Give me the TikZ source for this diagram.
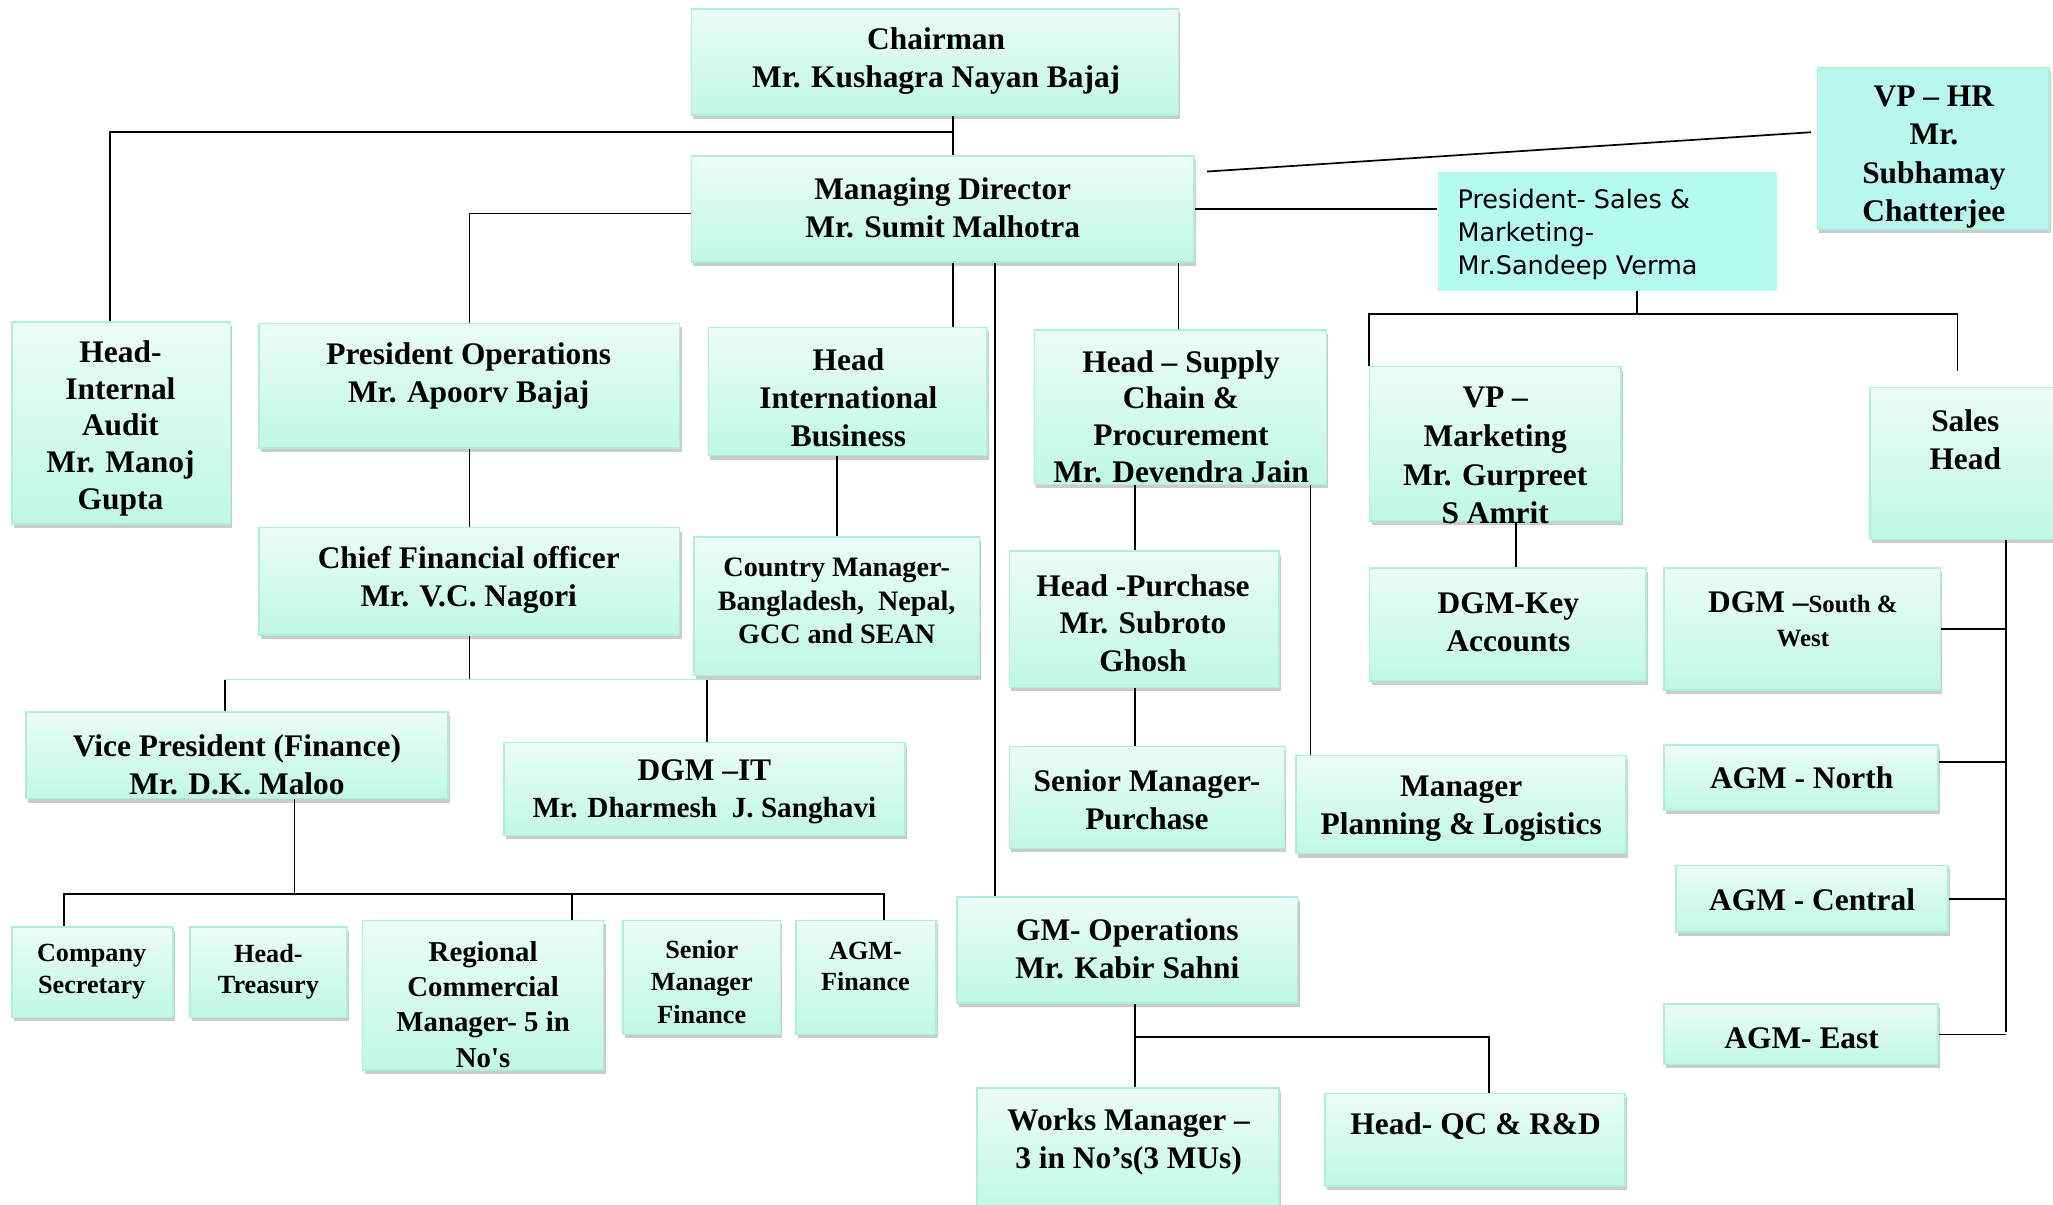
\documentclass[tikz,border=0pt]{standalone}
\usepackage{fontspec}
\setmainfont{Liberation Serif}
\newfontfamily\salesfont{DejaVu Sans}
\usetikzlibrary{shadows,fit}
\definecolor{boxtop}{HTML}{EBFDF7}
\definecolor{boxbot}{HTML}{BFF8E5}
\definecolor{boxline}{HTML}{ADF0D8}
\definecolor{cyanfill}{HTML}{B5FAEF}
\definecolor{hrfill}{HTML}{B8F8EC}
\definecolor{mintline}{HTML}{A8EED2}
\tikzset{
  orgbox/.style={draw=boxline, line width=1.2pt, top color=boxtop, bottom color=boxbot,
    drop shadow={shadow xshift=1.5pt, shadow yshift=-3pt, fill=black!45, opacity=0.45}, inner sep=0pt},
  flatbox/.style={fill=cyanfill, draw=none, inner sep=0pt},
  hrbox/.style={fill=hrfill, draw=boxline, line width=1.2pt,
    drop shadow={shadow xshift=1.5pt, shadow yshift=-3pt, fill=black!45, opacity=0.45}, inner sep=0pt},
  txt/.style={align=center, inner sep=0pt, yshift=-2pt, font=\bfseries\fontsize{24}{29}\selectfont},
  txtm/.style={align=center, inner sep=0pt, yshift=-2pt, font=\bfseries\fontsize{21.5}{26.5}\selectfont},
  txts/.style={align=center, inner sep=0pt, yshift=-2pt, font=\bfseries\fontsize{20}{24}\selectfont},
  wire/.style={line width=1.3pt, draw=black}
}
\begin{document}
\begin{tikzpicture}[x=1pt,y=-1pt]
\useasboundingbox (0,0) rectangle (1568,920);
\fill[white] (0,0) rectangle (1568,920);

% ---- boxes ----
\node[orgbox, fit={(528,7) (900,88)}] (chair) {};
\node[txt] (chair-t) at (715,45) {Chairman\\Mr. Kushagra Nayan Bajaj};

\node[orgbox, fit={(528,119) (912,200)}] (md) {};
\node[txt] (md-t) at (720,157) {Managing Director\\Mr. Sumit Malhotra};

\node[hrbox, fit={(1388,52) (1565,175)}] (vphr) {};
\node[txt, font=\bfseries\fontsize{24}{29.5}\selectfont] (vphr-t) at (1477,118) {VP – HR\\Mr.\\Subhamay\\Chatterjee};

\node[flatbox, fit={(1098,131) (1357,222)}] (pressales) {};
\node[align=left, inner sep=0pt, anchor=west, font=\salesfont\fontsize{19.5}{25.5}\selectfont] (pressales-t) at (1113,179) {President- Sales \&\\Marketing-\\Mr.Sandeep Verma};

\node[orgbox, fit={(9,246) (176,400)}] (audit) {};
\node[txt, font=\bfseries\fontsize{24}{28}\selectfont] (audit-t) at (92,325) {Head-\\Internal\\Audit\\Mr. Manoj\\Gupta};

\node[orgbox, fit={(198,247) (519,342)}] (presops) {};
\node[txt] (presops-t) at (358,285) {President Operations\\Mr. Apoorv Bajaj};

\node[orgbox, fit={(541,250) (754,348)}] (intl) {};
\node[txt] (intl-t) at (648,302) {Head\\International\\Business};

\node[orgbox, fit={(790,252) (1013,370)}] (supply) {};
\node[txt, font=\bfseries\fontsize{24}{28}\selectfont] (supply-t) at (902,316) {Head – Supply\\Chain \&\\Procurement\\Mr. Devendra Jain};

\node[orgbox, fit={(1046,280) (1238,398)}] (vpmkt) {};
\node[txt, font=\bfseries\fontsize{24}{29.5}\selectfont] (vpmkt-t) at (1142,346) {VP –\\Marketing\\Mr. Gurpreet\\S Amrit};

\node[orgbox, fit={(1428,296) (1578,412)}] (salesh) {};
\node[txt] (salesh-t) at (1501,334) {Sales\\Head};

\node[orgbox, fit={(198,403) (519,485)}] (cfo) {};
\node[txt] (cfo-t) at (358,441) {Chief Financial officer\\Mr. V.C. Nagori};

\node[orgbox, fit={(530,410) (748,516)}] (country) {};
\node[txtm, font=\bfseries\fontsize{21.5}{25.5}\selectfont] (country-t) at (639,457) {Country Manager-\\Bangladesh,\ \ Nepal,\\GCC and SEAN};

\node[orgbox, fit={(771,421) (977,525)}] (purch) {};
\node[txt] (purch-t) at (873,474) {Head -Purchase\\Mr. Subroto\\Ghosh};

\node[orgbox, fit={(1046,434) (1257,520)}] (dgmkey) {};
\node[txt] (dgmkey-t) at (1152,473) {DGM-Key\\Accounts};

\node[orgbox, fit={(1271,434) (1482,527)}] (dgmsw) {};
\node[txt, font=\bfseries\fontsize{24}{26}\selectfont] (dgmsw-t) at (1377,471) {DGM –{\fontsize{19}{26}\selectfont South \&}\\{\fontsize{19}{26}\selectfont West}};

\node[orgbox, fit={(20,544) (342,610)}] (vpf) {};
\node[txt] (vpf-t) at (181,582) {Vice President (Finance)\\Mr. D.K. Maloo};

\node[orgbox, fit={(385,567) (691,638)}] (dgmit) {};
\node[txt, font=\bfseries\fontsize{24}{28}\selectfont] (dgmit-t) at (538,603) {DGM –IT\\{\fontsize{22.3}{28}\selectfont Mr. Dharmesh\ \ J. Sanghavi}};

\node[orgbox, fit={(771,570) (981,648)}] (srmgr) {};
\node[txt] (srmgr-t) at (876,609) {Senior Manager-\\Purchase};

\node[orgbox, fit={(990,577) (1242,652)}] (plan) {};
\node[txt] (plan-t) at (1116,616) {Manager\\Planning \& Logistics};

\node[orgbox, fit={(1271,569) (1480,619)}] (agmn) {};
\node[txt] (agmn-t) at (1376,592) {AGM - North};

\node[orgbox, fit={(1280,661) (1488,712)}] (agmc) {};
\node[txt] (agmc-t) at (1384,685) {AGM - Central};

\node[orgbox, fit={(1271,767) (1480,813)}] (agme) {};
\node[txt] (agme-t) at (1376,791) {AGM- East};

\node[orgbox, fit={(731,685) (991,766)}] (gmops) {};
\node[txt] (gmops-t) at (861,723) {GM- Operations\\Mr. Kabir Sahni};

\node[orgbox, fit={(9,708) (132,777)}] (cosec) {};
\node[txts] (cosec-t) at (70,740) {Company\\Secretary};

\node[orgbox, fit={(145,708) (265,777)}] (treas) {};
\node[txts] (treas-t) at (205,740) {Head-\\Treasury};

\node[orgbox, fit={(277,703) (461,817)}] (rcm) {};
\node[txt, font=\bfseries\fontsize{22}{27}\selectfont] (rcm-t) at (369,765) {Regional\\Commercial\\Manager- 5 in\\No\textquotesingle s};

\node[orgbox, fit={(476,703) (596,790)}] (srmfin) {};
\node[txts, font=\bfseries\fontsize{20}{24.5}\selectfont] (srmfin-t) at (536,748) {Senior\\Manager\\Finance};

\node[orgbox, fit={(608,703) (715,790)}] (agmfin) {};
\node[txts] (agmfin-t) at (661,736) {AGM-\\Finance};

\node[orgbox, fit={(746,831) (977,925)}] (works) {};
\node[txt] (works-t) at (862,870) {Works Manager –\\3 in No’s(3 MUs)};

\node[orgbox, fit={(1012,835) (1241,906)}] (qc) {};
\node[txt] (qc-t) at (1127,858) {Head- QC \& R\&D};

% ---- helper coordinates ----
\coordinate (jTop) at (728,101);
\coordinate (x84) at (84,0);
\coordinate (x760) at (760,0);
\coordinate (x900) at (900,0);
\coordinate (x867) at (867,0);
\coordinate (x1001) at (1001,0);
\coordinate (x1158) at (1158,0);
\coordinate (x1532) at (1532,0);
\coordinate (x437) at (437,0);
\coordinate (y582) at (0,582);
\coordinate (y163) at (0,163);
\coordinate (hrA) at (922,131);
\coordinate (hrB) at (1383,101);
\coordinate (sJ) at (1250,240);
\coordinate (sR) at (1495,240);
\coordinate (sRb) at (1495,283);
\coordinate (fL) at (172,519);
\coordinate (fR) at (540,519);
\coordinate (eB) at (1532,788);
\coordinate (vJ) at (225,683);
\coordinate (vL) at (49,683);
\coordinate (vR) at (675,683);
\coordinate (gJ) at (867,792);
\coordinate (gR) at (1137,792);

% ---- connectors ----
\draw[wire] (chair.south -| jTop) -- (md.north -| jTop);
\draw[wire] (jTop) -| (audit.north -| x84);
\draw[wire] (md.west |- y163) -| (presops.north);
\draw[wire] (md.south -| jTop) -- (intl.north -| jTop);
\draw[wire] (md.south -| x760) -- (gmops.north -| x760);
\draw[wire] (md.south -| x900) -- (supply.north -| x900);
\draw[wire] (md.east) -- (md.east -| pressales.west);
\draw[wire] (hrA) -- (hrB);
\draw[wire] (pressales.south -| sJ) -- (sJ);
\draw[wire] (vpmkt.north west) |- (sR) -- (sRb);
\draw[wire] (presops.south) -- (cfo.north);
\draw[wire] (intl.south -| country.north) -- (country.north);
\draw[wire] (cfo.south) -- (cfo.south |- fL);
\draw[line width=1.3pt, draw=mintline] (fL) -- (fR);
\draw[wire] (fL) -- (vpf.north -| fL);
\draw[wire] (fR) -- (dgmit.north -| fR);
\draw[wire] (supply.south -| x867) -- (purch.north -| x867);
\draw[wire] (supply.south -| x1001) -- (plan.north -| x1001);
\draw[wire] (purch.south -| x867) -- (srmgr.north -| x867);
\draw[wire] (vpmkt.south -| x1158) -- (dgmkey.north -| x1158);
\draw[wire] (salesh.south -| x1532) -- (eB);
\draw[wire] (dgmsw.east) -- (dgmsw.east -| x1532);
\draw[wire] (agmn.east |- y582) -- (x1532 |- y582);
\draw[wire] (agmc.east) -- (agmc.east -| x1532);
\draw[wire] (agme.east) -- (agme.east -| x1532);
\draw[wire] (vpf.south -| vJ) -- (vJ);
\draw[wire] (cosec.north -| vL) |- (vR) -- (agmfin.north -| vR);
\draw[wire] (x437 |- vJ) -- (rcm.north -| x437);
\draw[wire] (gmops.south -| gJ) -- (gJ) -- (gR) -- (qc.north -| gR);
\draw[wire] (gJ) -- (works.north -| gJ);
\end{tikzpicture}
\end{document}
